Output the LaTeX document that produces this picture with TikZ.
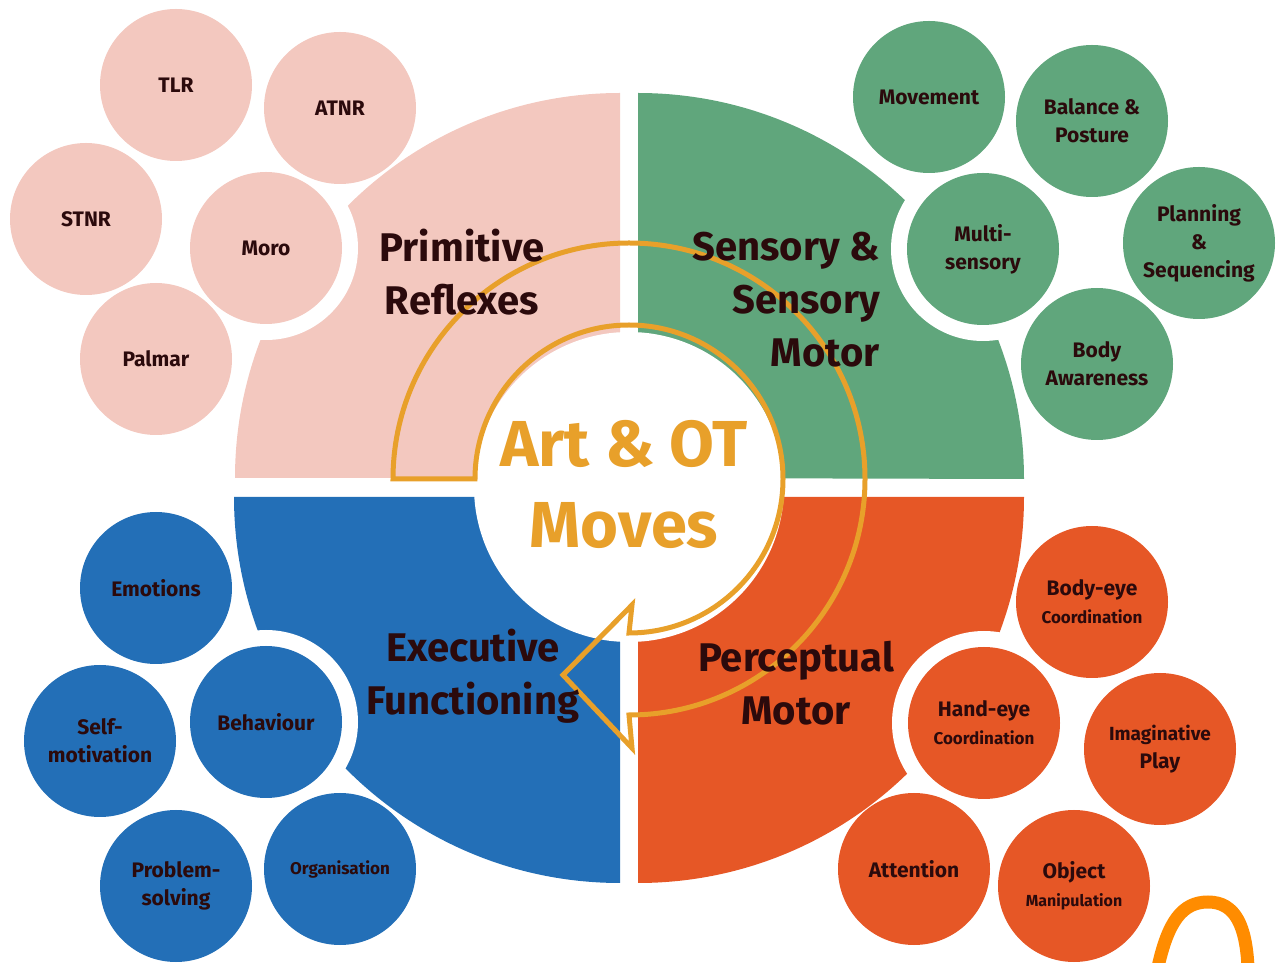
\documentclass[tikz,border=0pt]{standalone}
\usepackage{fontspec}
\setmainfont{Fira Sans}
\usepackage{tikz}
\usetikzlibrary{backgrounds}
\definecolor{reflexpink}{RGB}{243, 200, 191}
\definecolor{sensegreen}{RGB}{96, 166, 124}
\definecolor{execblue}{RGB}{35, 111, 183}
\definecolor{perceptorange}{RGB}{230, 87, 38}
\definecolor{ringgold}{RGB}{232, 160, 42}
\definecolor{inkbrown}{RGB}{43, 10, 12}
\definecolor{scribble}{RGB}{255, 140, 0}
\tikzset{
    bubble/.style={circle, minimum size=152pt, inner sep=0pt, align=center, text=inkbrown, font=\bfseries\fontsize{21}{28}\selectfont},
    area/.style={align=center, text=inkbrown, inner sep=0pt, font=\bfseries\fontsize{40}{53}\selectfont},
    small/.style={font=\bfseries\fontsize{17}{22}\selectfont}
}

\begin{document}
\begin{tikzpicture}[x=1pt, y=1pt]
    \useasboundingbox (0,0) rectangle (1278,962);

    % Primitive reflexes bubbles
    \node[bubble, fill=reflexpink] (tlr) at (176,877) {TLR};
    \node[bubble, fill=reflexpink] (atnr) at (340,854) {ATNR};
    \node[bubble, fill=reflexpink] (stnr) at (86,743) {STNR};
    \node[bubble, fill=reflexpink] (moro) at (266,714) {Moro};
    \node[bubble, fill=reflexpink] (palmar) at (156,603) {Palmar};

    % Sensory bubbles
    \node[bubble, fill=sensegreen] (movement) at (929,865) {Movement};
    \node[bubble, fill=sensegreen] (balance) at (1092,841) {Balance \&\\Posture};
    \node[bubble, fill=sensegreen] (multi) at (983,713) {Multi-\\sensory};
    \node[bubble, fill=sensegreen] (planning) at (1199,719) {Planning\\\&\\Sequencing};
    \node[bubble, fill=sensegreen] (bodyaware) at (1097,598) {Body\\Awareness};

    % Executive bubbles
    \node[bubble, fill=execblue] (emotions) at (156,374) {Emotions};
    \node[bubble, fill=execblue] (selfmot) at (100,221) {Self-\\motivation};
    \node[bubble, fill=execblue] (behaviour) at (266,240) {Behaviour};
    \node[bubble, fill=execblue] (problem) at (176,76) {Problem-\\solving};
    \node[bubble, fill=execblue, small] (organise) at (340,93) {Organisation};

    % Perceptual bubbles
    \node[bubble, fill=perceptorange] (bodyeye) at (1092,360) {Body-eye\\{\fontsize{17}{22}\selectfont Coordination}};
    \node[bubble, fill=perceptorange] (handeye) at (984,239) {Hand-eye\\{\fontsize{17}{22}\selectfont Coordination}};
    \node[bubble, fill=perceptorange] (imagine) at (1160,213) {{\fontsize{19}{24}\selectfont Imaginative}\\Play};
    \node[bubble, fill=perceptorange] (attention) at (914,93) {Attention};
    \node[bubble, fill=perceptorange] (object) at (1074,76) {Object\\{\fontsize{16}{22}\selectfont Manipulation}};

    \begin{pgfonlayer}{background}
        % Quadrants
        \fill[reflexpink] (620,484) -- (235,484) arc[start angle=180, end angle=90, radius=385pt] -- cycle;
        \fill[sensegreen] (638,484) -- (638,869) arc[start angle=90, end angle=0, radius=386pt] -- cycle;
        \fill[execblue] (620,465) -- (620,79) arc[start angle=270, end angle=180, radius=386pt] -- cycle;
        \fill[perceptorange] (638,465) -- (1024,465) arc[start angle=0, end angle=-90, radius=386pt] -- cycle;

        % White halos round the inner bubbles
        \foreach \n in {moro, multi, behaviour, handeye}
            \fill[white] (\n.center) circle (92pt);

        % Centre disc and cycle arrow
        \fill[white] (629,475) circle (155pt);
        \draw[ringgold, line width=5pt, line join=miter] (393,483) arc[start angle=180, end angle=-90, radius=236pt]
            -- (632,214) -- (563,287) -- (632,357) -- (629,329)
            arc[start angle=-90, end angle=180, radius=154pt] -- cycle;
    \end{pgfonlayer}

    % Quadrant titles
    \node[area] (reflexes) at (462,690) {Primitive\\Reflexes};
    \node[area, align=right, anchor=east] (sensory) at (880,662) {Sensory \&\\Sensory\\Motor};
    \node[area] (executive) at (473,286) {Executive\\Functioning};
    \node[area] (perceptual) at (796,279) {Perceptual\\Motor};

    % Centre title
    \node[align=center, text=ringgold, inner sep=0pt, font=\bfseries\fontsize{65}{81}\selectfont] (artot) at (624,478) {Art \& OT\\Moves};

    % Scribble
    \draw[scribble, line width=13pt, line cap=round] (1158,-5) .. controls (1168,40) and (1182,60) .. (1208,60)
        .. controls (1236,60) and (1246,35) .. (1248,-5);
\end{tikzpicture}
\end{document}
